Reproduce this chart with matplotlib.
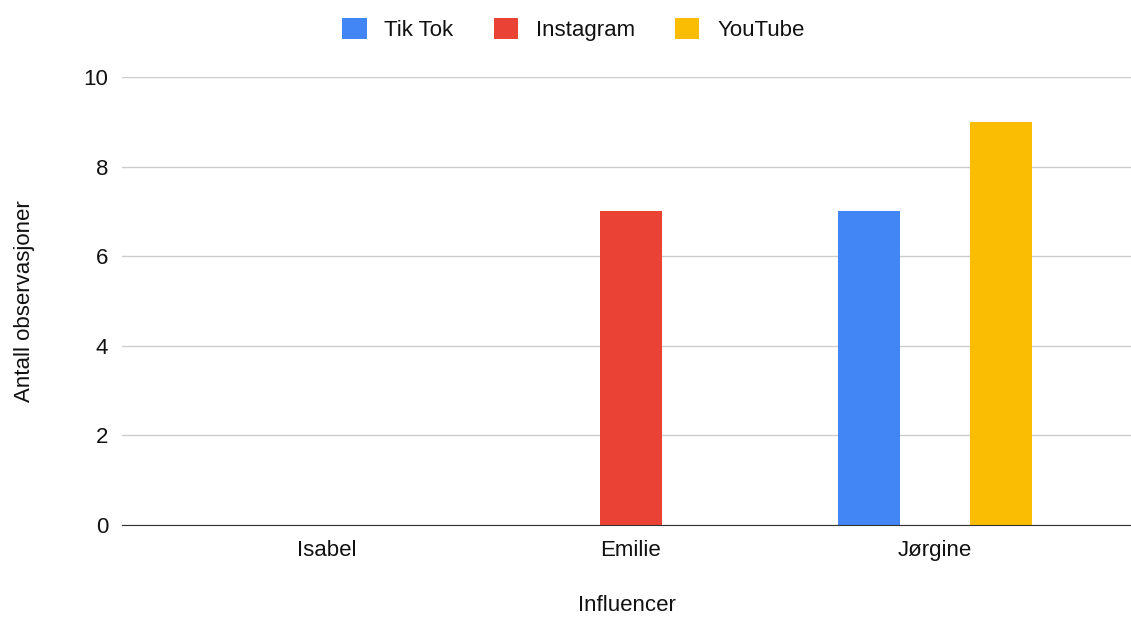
import matplotlib.pyplot as plt
import numpy as np

plt.rcParams['font.family'] = ['Liberation Sans', 'DejaVu Sans']

influencers = ['Isabel', 'Emilie', 'Jørgine']
tiktok = [0, 0, 7]
instagram = [0, 7, 0]
youtube = [0, 0, 9]
series = ['Tik Tok', 'Instagram', 'YouTube']
colors = ['#4285F4', '#EA4335', '#FBBC04']

fig = plt.figure(figsize=(11.31, 6.19), dpi=100)
ax = fig.add_axes([122 / 1131, 1 - 525 / 619, (1131 - 122) / 1131, (525 - 77) / 619])

x = np.arange(len(influencers))
step = 0.217
width = 0.204
for i, (vals, name, c) in enumerate(zip([tiktok, instagram, youtube], series, colors)):
    ax.bar(x + (i - 1) * step, vals, width, color=c, label=name, zorder=3)

ax.set_ylim(0, 10)
ax.set_xlim((122 - 327) / 304, (1131 - 327) / 304)
ax.set_yticks(range(0, 11, 2))
ax.set_xticks(x)
ax.set_xticklabels(influencers)
ax.grid(axis='y', color='#cccccc', linewidth=1, zorder=0)
for s in ['top', 'right', 'left']:
    ax.spines[s].set_visible(False)
ax.spines['bottom'].set_color('#333333')
ax.spines['bottom'].set_zorder(4)
ax.tick_params(axis='both', length=0, labelsize=16, colors='#111111')
ax.tick_params(axis='y', pad=10)
ax.tick_params(axis='x', pad=11)
ax.set_ylabel('Antall observasjoner', fontsize=16, color='#111111', labelpad=35)
ax.set_xlabel('Influencer', fontsize=16, color='#111111', labelpad=24)

fig.legend(loc='upper center', bbox_to_anchor=(0.507, 1.003), ncol=3, frameon=False,
           fontsize=16, handlelength=1.1, handleheight=1.1, columnspacing=1.8,
           handletextpad=0.8, labelcolor='#111111')

fig.savefig('out.png', dpi=100)
